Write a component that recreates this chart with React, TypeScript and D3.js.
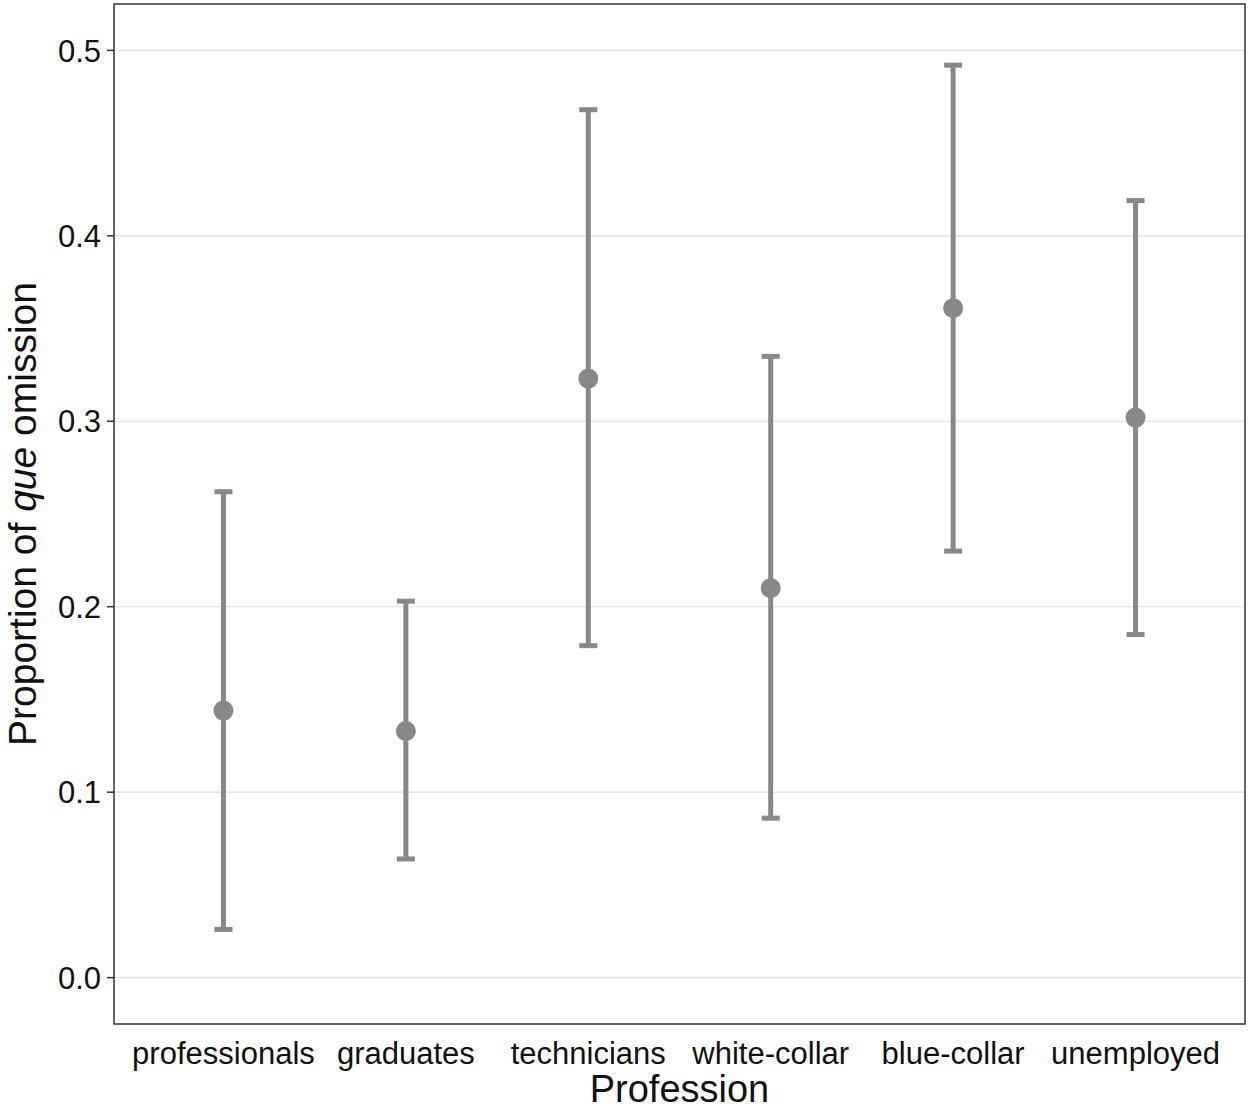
import React from 'react'
import * as d3 from 'd3'

const professions = ['professionals', 'graduates', 'technicians', 'white-collar', 'blue-collar', 'unemployed']
const proportion = [0.144, 0.133, 0.323, 0.210, 0.361, 0.302]
const lower = [0.026, 0.064, 0.179, 0.086, 0.230, 0.185]
const upper = [0.262, 0.203, 0.468, 0.335, 0.492, 0.419]
const yTicks = [0, 0.1, 0.2, 0.3, 0.4, 0.5]

const width = 1250
const height = 1109
const panel = { left: 114, right: 1245, top: 4, bottom: 1024 }
const grey = '#888888'
const font = '"Liberation Sans", Arial, Helvetica, sans-serif'

export default function App() {
  // ggplot-style discrete expansion: 0.6 unit on each side
  const x = d3.scaleLinear()
    .domain([-0.6, professions.length - 1 + 0.6])
    .range([panel.left, panel.right])
  const y = d3.scaleLinear()
    .domain([-0.025, 0.525])
    .range([panel.bottom, panel.top])

  const capHalf = 9

  return (
    <svg width={width} height={height} style={{ position: 'absolute', left: 0, top: 0, background: '#fff' }}
      fontFamily={font}>
      <rect x={0} y={0} width={width} height={height} fill="#fff" />
      {yTicks.map(t => (
        <g key={`g_${t}`}>
          <line x1={panel.left} x2={panel.right} y1={y(t)} y2={y(t)} stroke="#dedede" strokeWidth={1.2} />
          <line x1={panel.left - 7} x2={panel.left} y1={y(t)} y2={y(t)} stroke="#333" strokeWidth={1.5} />
          <text x={panel.left - 13} y={y(t)} dy="0.36em" textAnchor="end" fontSize={31} fill="#111">
            {d3.format('.1f')(t)}
          </text>
        </g>
      ))}
      {professions.map((p, i) => (
        <g key={`e_${p}`}>
          <line x1={x(i)} x2={x(i)} y1={y(lower[i])} y2={y(upper[i])} stroke={grey} strokeWidth={5} />
          <line x1={x(i) - capHalf} x2={x(i) + capHalf} y1={y(lower[i])} y2={y(lower[i])} stroke={grey} strokeWidth={5} />
          <line x1={x(i) - capHalf} x2={x(i) + capHalf} y1={y(upper[i])} y2={y(upper[i])} stroke={grey} strokeWidth={5} />
          <circle cx={x(i)} cy={y(proportion[i])} r={10} fill={grey} />
          <text x={x(i)} y={panel.bottom + 40} textAnchor="middle" fontSize={31} fill="#111">{p}</text>
        </g>
      ))}
      <rect x={panel.left} y={panel.top} width={panel.right - panel.left} height={panel.bottom - panel.top}
        fill="none" stroke="#333" strokeWidth={1.5} />
      <text x={(panel.left + panel.right) / 2} y={1102} textAnchor="middle" fontSize={38} fill="#111">Profession</text>
      <text transform={`translate(36, ${(panel.top + panel.bottom) / 2}) rotate(-90)`} textAnchor="middle"
        fontSize={39} fill="#111">
        Proportion of <tspan fontStyle="italic">que</tspan> omission
      </text>
    </svg>
  )
}
